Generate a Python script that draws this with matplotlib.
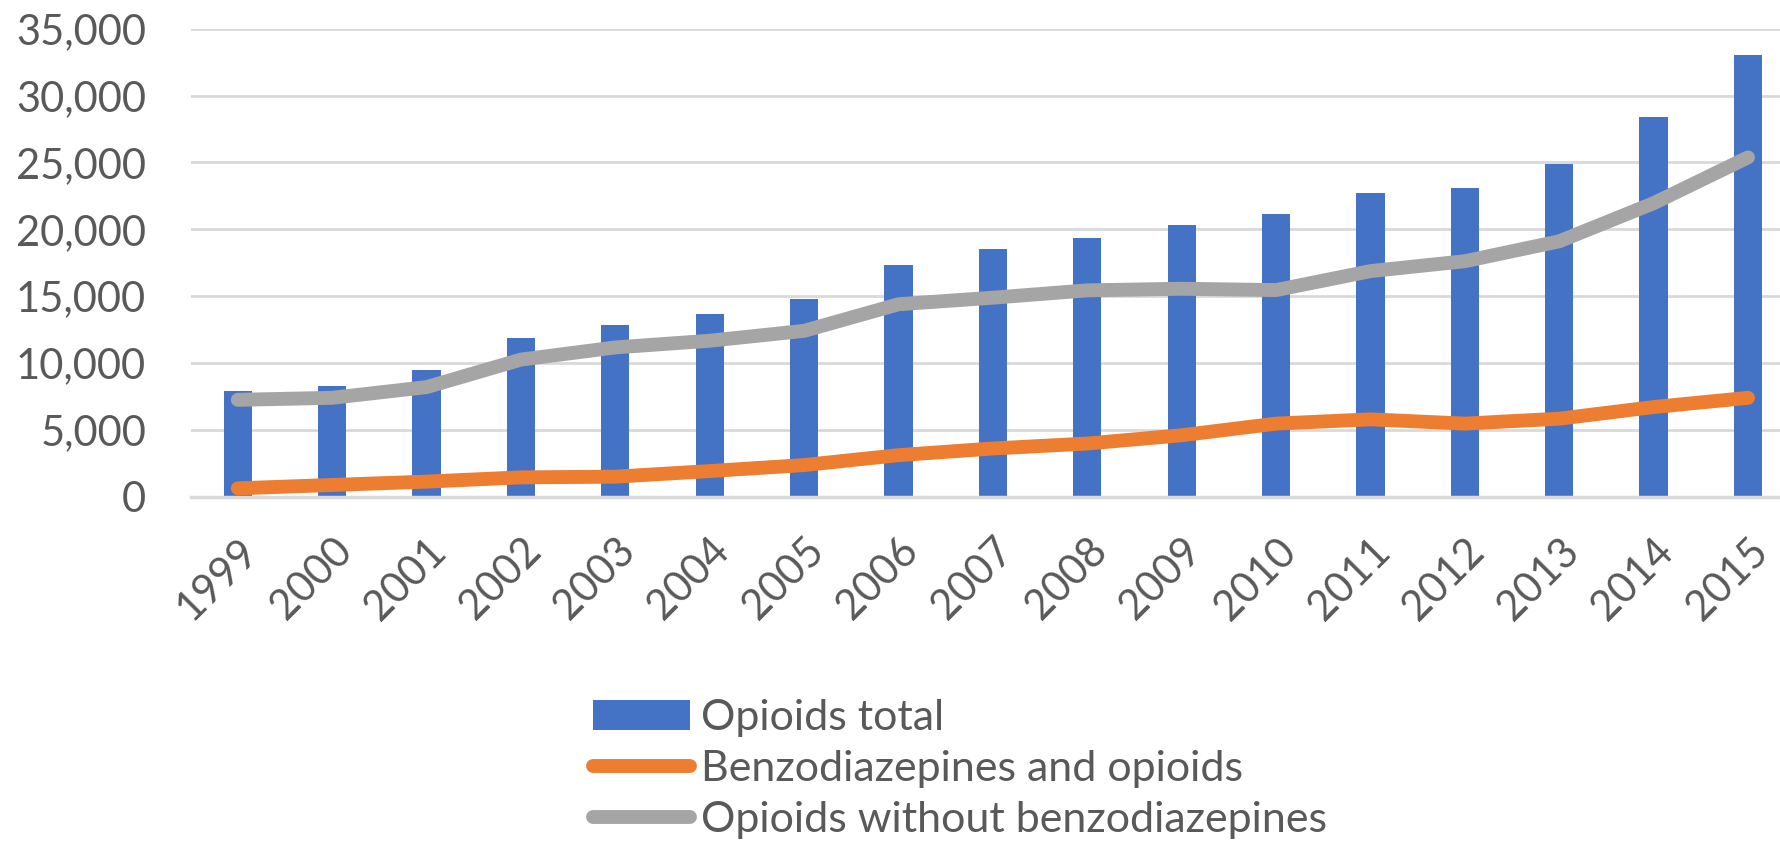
import matplotlib
matplotlib.use("Agg")
import matplotlib.pyplot as plt
import numpy as np

plt.rcParams['font.family'] = ['Lato', 'DejaVu Sans']

years = ['1999', '2000', '2001', '2002', '2003', '2004', '2005', '2006', '2007',
         '2008', '2009', '2010', '2011', '2012', '2013', '2014', '2015']
opioids_total = [7890, 8260, 9480, 11830, 12820, 13640, 14810, 17360, 18550,
                 19350, 20320, 21130, 22700, 23070, 24860, 28420, 33000]
benzo_and_opioids = [620, 870, 1120, 1440, 1490, 1910, 2360, 3100, 3600,
                     3970, 4590, 5460, 5780, 5460, 5830, 6700, 7390]
opioids_without_benzo = [7240, 7390, 8190, 10250, 11160, 11660, 12400, 14390, 14880,
                         15430, 15550, 15450, 16870, 17610, 19100, 21950, 25380]

text_color = '#595959'
grid_color = '#d9d9d9'
fs = 30

fig = plt.figure(figsize=(17.81, 8.46), dpi=100)
ax = fig.add_axes([0.107, 0.413, 0.901, 0.553])

x = np.arange(len(years))
bars = ax.bar(x, opioids_total, width=0.3, color='#4472C4', zorder=2)
l1, = ax.plot(x, benzo_and_opioids, color='#ED7D31', lw=10, solid_capstyle='round',
              solid_joinstyle='round', zorder=3)
l2, = ax.plot(x, opioids_without_benzo, color='#A5A5A5', lw=10, solid_capstyle='round',
              solid_joinstyle='round', zorder=4)

ax.set_xlim(-0.5, len(years) - 0.5)
ax.set_ylim(0, 35000)
ax.set_yticks(np.arange(0, 35001, 5000))
ax.set_yticklabels(['{:,}'.format(v) for v in range(0, 35001, 5000)])
ax.set_xticks(x)
ax.set_xticklabels(years, rotation=45, ha='right', rotation_mode='anchor')

ax.yaxis.grid(True, color=grid_color, lw=2, zorder=0)
ax.set_axisbelow(True)
for side in ['top', 'right', 'left']:
    ax.spines[side].set_visible(False)
ax.spines['bottom'].set_color(grid_color)
ax.spines['bottom'].set_linewidth(2.5)
ax.tick_params(axis='both', length=0, labelsize=fs, labelcolor=text_color)
ax.tick_params(axis='y', pad=32)
ax.tick_params(axis='x', pad=25)

fig.legend([bars, l1, l2],
           ['Opioids total', 'Benzodiazepines and opioids', 'Opioids without benzodiazepines'],
           loc='upper left', bbox_to_anchor=(0.333, 0.174), frameon=False,
           fontsize=31, labelcolor=text_color, handlelength=2.25,
           handletextpad=0.25, labelspacing=0.31, borderaxespad=0, borderpad=0)

fig.savefig('out.png', dpi=100)
